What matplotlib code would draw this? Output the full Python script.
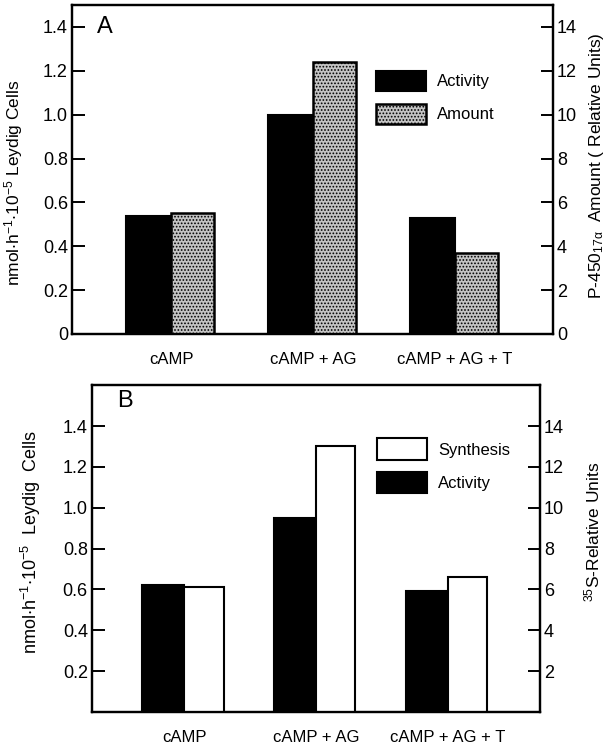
# Leydig cell P-450(17a): activity vs amount / synthesis
import numpy as np
import matplotlib
matplotlib.use('Agg')
import matplotlib.pyplot as plt

plt.rcParams['font.family'] = ['Liberation Sans', 'DejaVu Sans']
plt.rcParams['mathtext.fontset'] = 'custom'
plt.rcParams['mathtext.rm'] = 'Liberation Sans'
plt.rcParams['mathtext.it'] = 'Liberation Sans:italic'
plt.rcParams['mathtext.default'] = 'regular'
plt.rcParams['hatch.linewidth'] = 0.8

# data
groups = ['cAMP', 'cAMP + AG', 'cAMP + AG + T']
a_activity = [0.54, 1.00, 0.53]      # nmol h-1 10-5 cells
a_amount = [5.5, 12.4, 3.7]          # relative units
b_activity = [0.62, 0.95, 0.59]
b_synthesis = [6.1, 13.0, 6.6]

left_ticks_a = [0, 0.2, 0.4, 0.6, 0.8, 1.0, 1.2, 1.4]
left_labels_a = ['0', '0.2', '0.4', '0.6', '0.8', '1.0', '1.2', '1.4']
right_ticks_a = [0, 2, 4, 6, 8, 10, 12, 14]
left_ticks_b = [0.2, 0.4, 0.6, 0.8, 1.0, 1.2, 1.4]
left_labels_b = ['0.2', '0.4', '0.6', '0.8', '1.0', '1.2', '1.4']
right_ticks_b = [2, 4, 6, 8, 10, 12, 14]

x = np.arange(len(groups))
w_act = 0.32
w_amt = 0.30

fig = plt.figure(figsize=(6.11, 7.46), dpi=100)
axA = fig.add_axes([0.118, 0.5523, 0.787, 0.441])
axB = fig.add_axes([0.1506, 0.0456, 0.733, 0.438])


def style_axes(ax, ax2, lw=1.6):
    for a in (ax, ax2):
        for s in a.spines.values():
            s.set_linewidth(lw)
        a.tick_params(axis='y', direction='in', length=9, width=1.4,
                      labelsize=13, pad=3)
    ax.tick_params(axis='x', length=0, labelsize=12, pad=13)
    ax.set_xlim(-0.70, 2.69)


# ---- panel A
axA2 = axA.twinx()
h1 = axA.bar(x - w_act / 2, a_activity, w_act, color='black',
             edgecolor='black', linewidth=1.5, label='Activity')
h2 = axA2.bar(x + w_amt / 2, a_amount, w_amt, facecolor='#c4c4c4',
              edgecolor='black', linewidth=1.8, hatch='.....', label='Amount')
axA.set_ylim(0, 1.5)
axA2.set_ylim(0, 15)
axA.set_yticks(left_ticks_a)
axA.set_yticklabels(left_labels_a)
axA2.set_yticks(right_ticks_a)
axA.set_xticks(x)
axA.set_xticklabels(groups)
style_axes(axA, axA2)
axA.set_ylabel(r'nmol$\cdot$h$^{-1}$$\cdot$10$^{-5}$ Leydig Cells', fontsize=12.5)
axA.yaxis.set_label_coords(-0.098, 0.46)
axA2.set_ylabel(r'P-450$_{17\alpha}$  Amount ( Relative Units)', fontsize=12.5)
axA2.yaxis.set_label_coords(1.07, 0.51)
axA.text(0.052, 0.934, 'A', transform=axA.transAxes, fontsize=17,
         va='center', ha='left')
axA2.legend([h1, h2], ['Activity', 'Amount'], loc='upper left',
            bbox_to_anchor=(0.633, 0.80), frameon=False, borderpad=0,
            borderaxespad=0, handlelength=3.0, handleheight=1.5,
            labelspacing=0.75, handletextpad=0.65, fontsize=12)

# ---- panel B
axB2 = axB.twinx()
h3 = axB2.bar(x + w_amt / 2, b_synthesis, w_amt, facecolor='white',
              edgecolor='black', linewidth=1.5, label='Synthesis')
h4 = axB.bar(x - w_act / 2, b_activity, w_act, color='black',
             edgecolor='black', linewidth=1.5, label='Activity')
axB.set_ylim(0, 1.6)
axB2.set_ylim(0, 16)
axB.set_yticks(left_ticks_b)
axB.set_yticklabels(left_labels_b)
axB2.set_yticks(right_ticks_b)
axB.set_xticks(x)
axB.set_xticklabels(groups)
style_axes(axB, axB2)
axB.set_xlim(-0.70, 2.70)
axB.set_ylabel(r'nmol$\cdot$h$^{-1}$$\cdot$10$^{-5}$  Leydig  Cells', fontsize=13)
axB.yaxis.set_label_coords(-0.11, 0.52)
axB2.set_ylabel(r'$^{35}$S-Relative Units', fontsize=12.5)
axB2.yaxis.set_label_coords(1.095, 0.55)
axB.text(0.055, 0.952, 'B', transform=axB.transAxes, fontsize=17,
         va='center', ha='left')
axB2.legend([h3, h4], ['Synthesis', 'Activity'], loc='upper left',
            bbox_to_anchor=(0.637, 0.837), frameon=False, borderpad=0,
            borderaxespad=0, handlelength=3.0, handleheight=1.6,
            labelspacing=0.7, handletextpad=0.65, fontsize=12)

plt.savefig('out.png', dpi=100)
plt.close('all')
